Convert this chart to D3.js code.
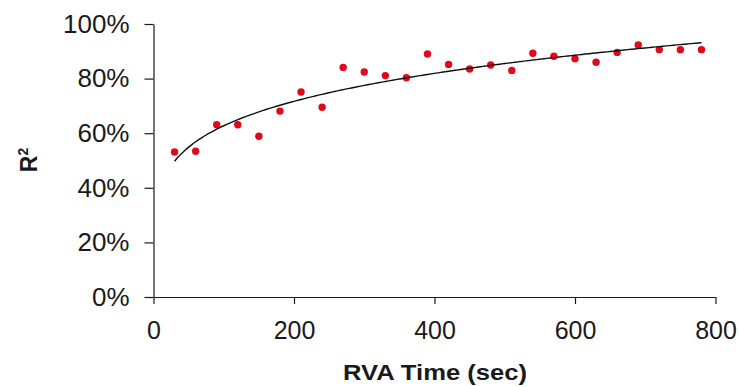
<!DOCTYPE html>
<html>
  <head>
    <meta charset="utf-8" />
    <title>R2 vs RVA Time</title>
    <script src="https://d3js.org/d3.v7.min.js"></script>
    <style>
      body { margin: 0; background: #fff; }
      text { font-family: "Liberation Sans", Arial, sans-serif; fill: #1a1a1a; }
    </style>
  </head>
  <body>
    <svg width="739" height="387" id="chart"></svg>

    <script>
      // RVA time (sec) and R squared
      var times = [30, 60, 90, 120, 150, 180, 210, 240, 270, 300, 330, 360, 390,
                   420, 450, 480, 510, 540, 570, 600, 630, 660, 690, 720, 750, 780];
      var rsq = [0.531, 0.534, 0.631, 0.631, 0.589, 0.681, 0.751, 0.695, 0.841, 0.824, 0.811, 0.803, 0.890,
                 0.852, 0.835, 0.850, 0.830, 0.893, 0.882, 0.873, 0.860, 0.896, 0.923, 0.906, 0.906, 0.906];

      var xTicks = [0, 200, 400, 600, 800];
      var yTicks = [0, 0.2, 0.4, 0.6, 0.8, 1];

      var svg = d3.select("#chart");

      var x = d3.scaleLinear().domain([0, 800]).range([153.5, 715.5]);
      var y = d3.scaleLinear().domain([0, 1]).range([297, 24]);

      // y axis
      var yAxis = svg.append("g")
          .attr("transform", "translate(153.5,0)")
          .call(d3.axisLeft(y).tickValues(yTicks).tickFormat(d3.format(".0%"))
                .tickSize(9).tickSizeOuter(0).tickPadding(15));

      // x axis
      var xAxis = svg.append("g")
          .attr("transform", "translate(0,297)")
          .call(d3.axisBottom(x).tickValues(xTicks).tickSize(7).tickSizeOuter(0).tickPadding(17));

      svg.selectAll(".domain, .tick line")
          .attr("stroke", "#1a1a1a")
          .attr("stroke-width", 1.2);
      yAxis.selectAll("text").style("font-size", "26px").style("font-family", "Liberation Sans, Arial");
      xAxis.selectAll("text").style("font-size", "25px").style("font-family", "Liberation Sans, Arial");

      // power trendline y = c * x^k, least squares on logs
      var lx = times.map(function(d) { return Math.log(d); });
      var ly = rsq.map(function(d) { return Math.log(d); });
      var mx = d3.mean(lx), my = d3.mean(ly);
      var sxy = 0, sxx = 0;
      for (var i = 0; i < lx.length; i++) {
        sxy += (lx[i] - mx) * (ly[i] - my);
        sxx += (lx[i] - mx) * (lx[i] - mx);
      }
      var k = sxy / sxx;
      var c = Math.exp(my - k * mx);

      var trend = d3.range(30, 781, 5).map(function(t) { return [t, c * Math.pow(t, k)]; });

      var line = d3.line()
          .x(function(d) { return x(d[0]); })
          .y(function(d) { return y(d[1]); })
          .curve(d3.curveMonotoneX);

      // points
      svg.append("g").selectAll("circle")
          .data(times)
          .join("circle")
          .attr("cx", function(d) { return x(d); })
          .attr("cy", function(d, i) { return y(rsq[i]); })
          .attr("r", 3.7)
          .attr("fill", "#e2071b");

      svg.append("path")
          .datum(trend)
          .attr("d", line)
          .attr("fill", "none")
          .attr("stroke", "#111")
          .attr("stroke-width", 1.4);

      // axis titles (the x title is a bit stretched in the original)
      svg.append("text")
          .attr("x", 343)
          .attr("y", 380)
          .attr("textLength", 184)
          .attr("lengthAdjust", "spacingAndGlyphs")
          .style("font-size", "21.5px")
          .style("font-weight", "bold")
          .text("RVA Time (sec)");

      var ytitle = svg.append("text")
          .attr("transform", "translate(37,160) rotate(-90)")
          .attr("text-anchor", "middle")
          .style("font-size", "23px")
          .style("font-weight", "bold");
      ytitle.append("tspan").text("R");
      ytitle.append("tspan").attr("dy", "-9").style("font-size", "14px").text("2");
    </script>
  </body>
</html>
